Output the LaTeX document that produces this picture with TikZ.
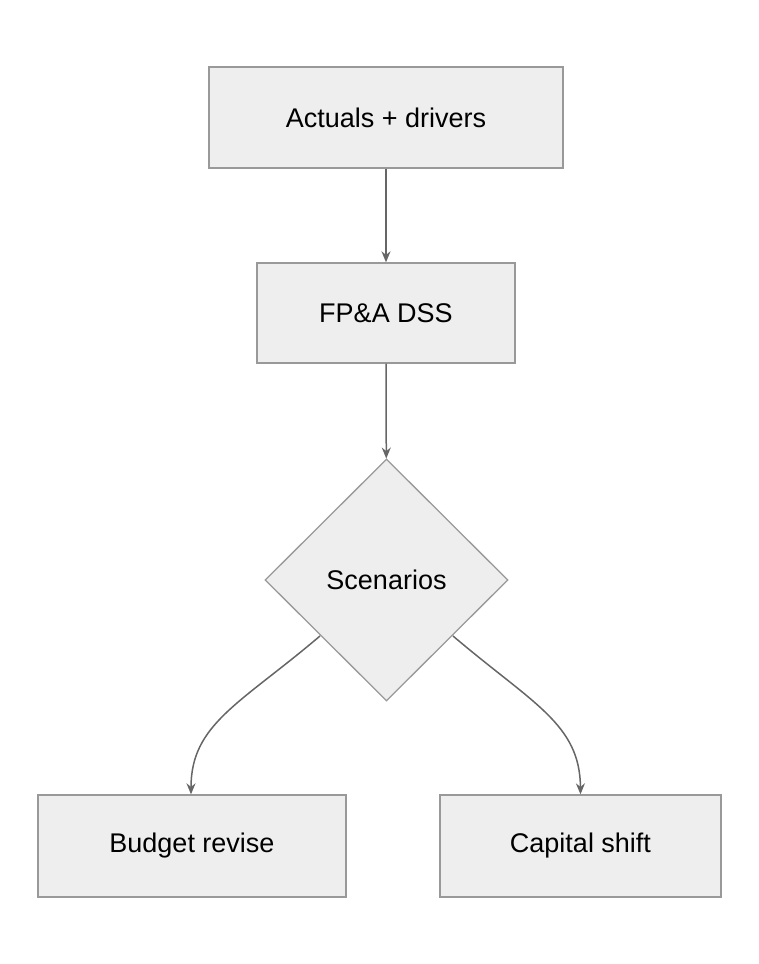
\documentclass[tikz,border=0pt]{standalone}
\usepackage{fontspec}
\setmainfont{Liberation Sans}
\usetikzlibrary{shapes.geometric,arrows.meta}
\definecolor{fillc}{HTML}{EEEEEE}
\definecolor{linec}{HTML}{999999}
\definecolor{arr}{HTML}{666666}
\begin{document}
\begin{tikzpicture}[x=1pt,y=1pt,
 box/.style={draw=linec,fill=fillc,line width=1.3pt,font=\fontsize{27}{32}\selectfont,inner sep=0pt},
 con/.style={draw=arr,line width=1.5pt,-{Stealth[length=11pt,width=9pt]}}]
\useasboundingbox (0,0) rectangle (758,964);
\node[box,minimum width=354pt,minimum height=101pt] (a) at (386,846.5) {Actuals + drivers};
\node[box,minimum width=258pt,minimum height=100pt] (b) at (386,651) {FP\&A DSS};
\node[box,diamond,minimum width=243pt,minimum height=242pt] (c) at (386.5,384) {Scenarios};
\node[box,minimum width=308pt,minimum height=102pt] (d) at (192,118) {Budget revise};
\node[box,minimum width=281pt,minimum height=102pt] (e) at (580.5,118) {Capital shift};
\draw[con] (a) -- (b);
\draw[con] (b) -- (c);
\draw[con] (320,328) .. controls (240,260) and (191,240) .. (d.north -| 191,0);
\draw[con] (453,328) .. controls (533,260) and (580,240) .. (e.north);
\end{tikzpicture}
\end{document}
